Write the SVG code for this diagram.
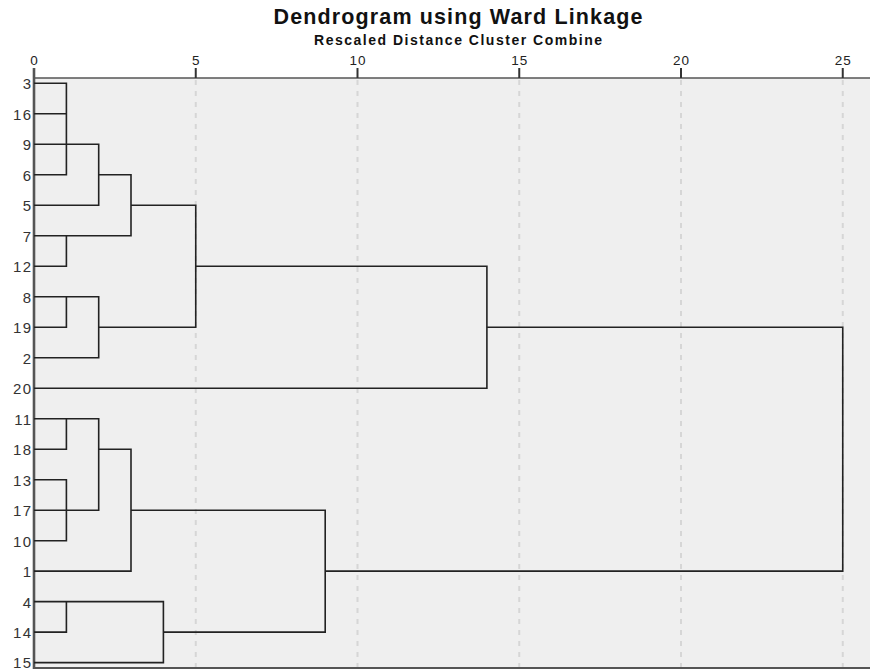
<svg xmlns="http://www.w3.org/2000/svg" width="870" height="670" viewBox="0 0 870 670">
<style>
.title{font-family:"Liberation Sans",Arial,sans-serif;font-weight:bold;fill:#111}
.tick{font-family:"Liberation Sans",Arial,sans-serif;font-size:13.5px;fill:#222;text-anchor:middle;letter-spacing:0.8px}
.leaf{font-family:"Liberation Sans",Arial,sans-serif;font-size:15px;fill:#333;text-anchor:end;letter-spacing:1.3px}
.grid{stroke:#d6d6d6;stroke-width:2;stroke-dasharray:5 6;fill:none}
.axis{stroke:#555;fill:none}
.tk{stroke:#333;stroke-width:2}
.ln{stroke:#222;stroke-width:1.6;fill:none}
</style>
<rect width="870" height="670" fill="#ffffff"/>
<rect x="34" y="78" width="836" height="590" fill="#efefef"/>
<text class="title" x="458" y="24" font-size="21.5" text-anchor="middle" textLength="369" lengthAdjust="spacing">Dendrogram using Ward Linkage</text>
<text class="title" x="458" y="45" font-size="14" text-anchor="middle" textLength="288" lengthAdjust="spacing">Rescaled Distance Cluster Combine</text>
<g id="grid">
<line class="grid" x1="195.75" y1="80" x2="195.75" y2="667"/>
<line class="grid" x1="357.5" y1="80" x2="357.5" y2="667"/>
<line class="grid" x1="519.25" y1="80" x2="519.25" y2="667"/>
<line class="grid" x1="681" y1="80" x2="681" y2="667"/>
<line class="grid" x1="842.75" y1="80" x2="842.75" y2="667"/>
</g>
<g id="axis">
<line class="axis" x1="34" y1="78" x2="870" y2="78" stroke-width="1.6"/>
<line class="axis" x1="34" y1="668" x2="870" y2="668" stroke-width="2"/>
<line class="axis" x1="34" y1="68" x2="34" y2="669" stroke-width="2.6" stroke="#444"/>
<line class="tk" x1="195.75" y1="68" x2="195.75" y2="78"/>
<line class="tk" x1="357.5" y1="68" x2="357.5" y2="78"/>
<line class="tk" x1="519.25" y1="68" x2="519.25" y2="78"/>
<line class="tk" x1="681" y1="68" x2="681" y2="78"/>
<line class="tk" x1="842.75" y1="68" x2="842.75" y2="78"/>
<text class="tick" x="34.4" y="65">0</text>
<text class="tick" x="196.15" y="65">5</text>
<text class="tick" x="357.9" y="65">10</text>
<text class="tick" x="519.65" y="65">15</text>
<text class="tick" x="681.4" y="65">20</text>
<text class="tick" x="843.15" y="65">25</text>
</g>
<g id="leaf-3"><text class="leaf" x="32.3" y="89">3</text></g>
<g id="leaf-16"><text class="leaf" x="32.3" y="119.5">16</text></g>
<g id="leaf-9"><text class="leaf" x="32.3" y="150">9</text></g>
<g id="leaf-6"><text class="leaf" x="32.3" y="180.5">6</text></g>
<g id="leaf-5"><text class="leaf" x="32.3" y="211">5</text></g>
<g id="leaf-7"><text class="leaf" x="32.3" y="241.5">7</text></g>
<g id="leaf-12"><text class="leaf" x="32.3" y="272">12</text></g>
<g id="leaf-8"><text class="leaf" x="32.3" y="302.5">8</text></g>
<g id="leaf-19"><text class="leaf" x="32.3" y="333">19</text></g>
<g id="leaf-2"><text class="leaf" x="32.3" y="363.5">2</text></g>
<g id="leaf-20"><text class="leaf" x="32.3" y="394">20</text></g>
<g id="leaf-11"><text class="leaf" x="32.3" y="424.5">11</text></g>
<g id="leaf-18"><text class="leaf" x="32.3" y="455">18</text></g>
<g id="leaf-13"><text class="leaf" x="32.3" y="485.5">13</text></g>
<g id="leaf-17"><text class="leaf" x="32.3" y="516">17</text></g>
<g id="leaf-10"><text class="leaf" x="32.3" y="546.5">10</text></g>
<g id="leaf-1"><text class="leaf" x="32.3" y="577">1</text></g>
<g id="leaf-4"><text class="leaf" x="32.3" y="607.5">4</text></g>
<g id="leaf-14"><text class="leaf" x="32.3" y="638">14</text></g>
<g id="leaf-15"><text class="leaf" x="32.3" y="668">15</text></g>
<g id="connectors">
<path class="ln" d="M34,83.3 H66.4 V174.8 H34"/>
<path class="ln" d="M34,113.8 H66.4"/>
<path class="ln" d="M34,144.3 H98.7 V205.3 H34"/>
<path class="ln" d="M98.7,174.8 H131 V235.8 H34"/>
<path class="ln" d="M34,266.2 H66.4 V235.8"/>
<path class="ln" d="M131,205.3 H195.75 V327.2 H98.7"/>
<path class="ln" d="M34,296.7 H98.7 V357.7 H34"/>
<path class="ln" d="M66.4,296.7 V327.2 H34"/>
<path class="ln" d="M195.75,266.2 H486.9 V388.2 H34"/>
<path class="ln" d="M486.9,327.2 H842.75 V571.1 H325.2"/>
<path class="ln" d="M34,418.7 H98.7 V510.2 H34"/>
<path class="ln" d="M66.4,418.7 V449.2 H34"/>
<path class="ln" d="M98.7,449.2 H131 V571.1 H34"/>
<path class="ln" d="M34,479.7 H66.4 V540.7 H34"/>
<path class="ln" d="M131,510.2 H325.2 V632.1 H163.4"/>
<path class="ln" d="M34,601.6 H163.4 V662.6 H34"/>
<path class="ln" d="M66.4,601.6 V632.1 H34"/>
</g>
</svg>
